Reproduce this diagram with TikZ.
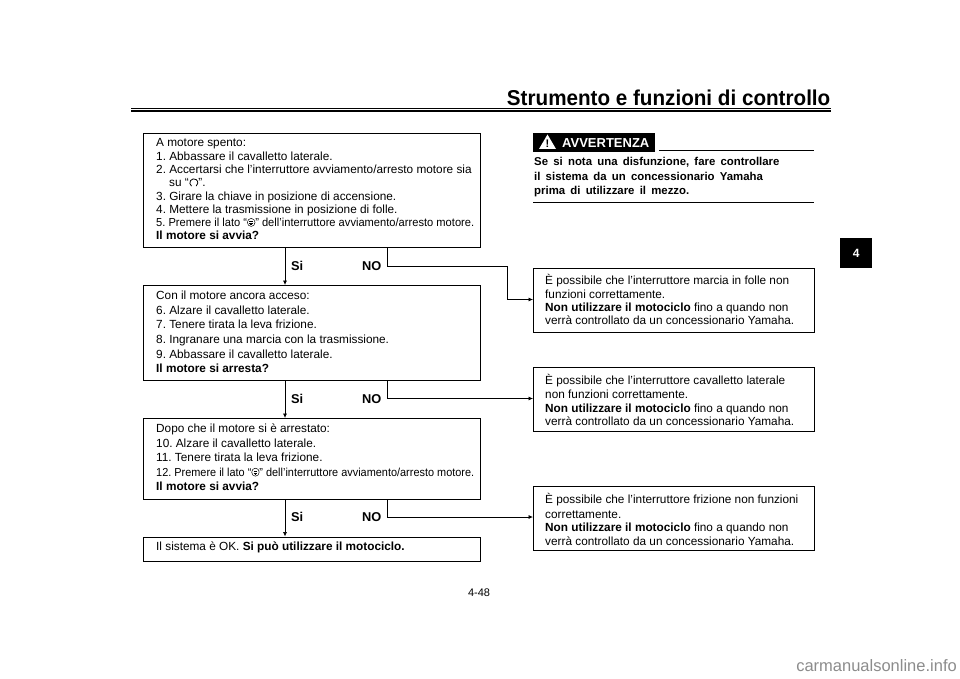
\documentclass[tikz,border=0pt]{standalone}
\usepackage{fontspec}
\setmainfont{Liberation Sans}
\usetikzlibrary{arrows.meta}
\newcommand{\boxfont}[1]{\frenchspacing\fontsize{11.8}{#1}\selectfont}
\newcommand{\narrowline}[1]{\resizebox{318pt}{\height}{\fontsize{11.6}{13}\selectfont #1}}
\newcommand{\startsym}{\tikz[baseline=-0.4pt,x=1pt,y=1pt,line width=0.5pt]{\draw (0,3.8) circle (4); \draw (-2,4.8) -- (2,4.8) (-2,3.2) -- (2,3.2) (-1,1.7) -- (1,1.7);}}
\newcommand{\runsym}{\tikz[baseline=0pt,x=1pt,y=1pt,line width=0.8pt]{\draw (-2.2,0.6) arc[start angle=235,end angle=-55,radius=4];}}
\tikzset{
  flowbox/.style={draw=black,line width=1.2pt,anchor=north west,inner sep=0pt},
  boxtext/.style={anchor=north west,inner sep=0pt,align=left},
  decision/.style={anchor=base west,inner sep=0pt,font=\bfseries\fontsize{12.8}{14}\selectfont},
  conn/.style={draw=black,line width=0.7pt,-{Latex[length=4.5pt,width=4pt]}},
  rulek/.style={draw=black}
}
\begin{document}
\begin{tikzpicture}[x=1pt,y=-1pt]
\useasboundingbox (0,0) rectangle (960,679);
\fill[white] (0,0) rectangle (960,679);
% header
\node[anchor=base east,inner sep=0pt,font=\bfseries\fontsize{21.5}{24}\selectfont] (title) at (830.5,105.5) {\scalebox{0.96}[1]{Strumento e funzioni di controllo}};
\coordinate (h1) at (131,108.7); \coordinate (h1e) at (831,108.7);
\coordinate (h2) at (131,111.3); \coordinate (h2e) at (831,111.3);
\draw[rulek,line width=0.9pt] (h1) -- (h1e);
\draw[rulek,line width=1.6pt] (h2) -- (h2e);
% tab
\node[fill=black,text=white,font=\bfseries\fontsize{12}{13}\selectfont,minimum width=32pt,minimum height=30pt,inner sep=0pt,anchor=north west] (tab) at (840,238) {4};
% boxes
\node[flowbox,minimum width=337pt,minimum height=114pt] (b1) at (142.5,133) {};
\node[flowbox,minimum width=337pt,minimum height=95pt] (b2) at (142.5,285) {};
\node[flowbox,minimum width=337pt,minimum height=81pt] (b3) at (142.5,418) {};
\node[flowbox,minimum width=337pt,minimum height=24pt] (b4) at (142.5,536.5) {};
\node[flowbox,minimum width=281pt,minimum height=64pt] (r1) at (533,267.5) {};
\node[flowbox,minimum width=281pt,minimum height=64pt] (r2) at (533,367) {};
\node[flowbox,minimum width=281pt,minimum height=64pt] (r3) at (533,486) {};
% box texts
\node[boxtext,font=\boxfont{13.3}] (t1) at (156,138.5) {A motore spento:\\1. Abbassare il cavalletto laterale.\\2. Accertarsi che l’interruttore avviamento/arresto motore sia\\\hspace*{13pt}su “\runsym”.\\3. Girare la chiave in posizione di accensione.\\4. Mettere la trasmissione in posizione di folle.\\\narrowline{5. Premere il lato “\startsym” dell’interruttore avviamento/arresto motore.}\\\textbf{Il motore si avvia?}};
\node[boxtext,font=\boxfont{14.6}] (t2) at (156,291) {Con il motore ancora acceso:\\6. Alzare il cavalletto laterale.\\7. Tenere tirata la leva frizione.\\8. Ingranare una marcia con la trasmissione.\\9. Abbassare il cavalletto laterale.\\\textbf{Il motore si arresta?}};
\node[boxtext,font=\boxfont{14.5}] (t3) at (156,424) {Dopo che il motore si è arrestato:\\10. Alzare il cavalletto laterale.\\11. Tenere tirata la leva frizione.\\\narrowline{12. Premere il lato “\startsym” dell’interruttore avviamento/arresto motore.}\\\textbf{Il motore si avvia?}};
\node[boxtext,font=\boxfont{13.3}] (t4) at (156,542) {Il sistema è OK. \textbf{Si può utilizzare il motociclo.}};
\node[boxtext,font=\boxfont{13.2}] (tr1) at (545,274.5) {È possibile che l’interruttore marcia in folle non\\funzioni correttamente.\\\textbf{Non utilizzare il motociclo} fino a quando non\\verrà controllato da un concessionario Yamaha.};
\node[boxtext,font=\boxfont{13.6}] (tr2) at (545,374.5) {È possibile che l’interruttore cavalletto laterale\\non funzioni correttamente.\\\textbf{Non utilizzare il motociclo} fino a quando non\\verrà controllato da un concessionario Yamaha.};
\node[boxtext,font=\boxfont{13.3}] (tr3) at (545,493.5) {È possibile che l’interruttore frizione non funzioni\\[1.4pt]correttamente.\\\textbf{Non utilizzare il motociclo} fino a quando non\\verrà controllato da un concessionario Yamaha.};
% connectors
\draw[conn] (b1.south west -| 285,0) -- (b2.north west -| 285,0);
\draw[conn] (b2.south west -| 285,0) -- (b3.north west -| 285,0);
\draw[conn] (b3.south west -| 285,0) -- (b4.north west -| 285,0);
\draw[conn] (b1.south west -| 387,0) |- (507,266) |- (r1.west |- 0,299.5);
\draw[conn] (b2.south west -| 387,0) |- (r2.west |- 0,398.5);
\draw[conn] (b3.south west -| 387,0) |- (r3.west |- 0,517);
% labels
\node[decision] (s1) at (291,270) {Si};
\node[decision] (n1) at (362,270) {NO};
\node[decision] (s2) at (291,403) {Si};
\node[decision] (n2) at (362,403) {NO};
\node[decision] (s3) at (291,521.5) {Si};
\node[decision] (n3) at (362,521.5) {NO};
% warning
\node[fill=black,anchor=north west,minimum width=122pt,minimum height=19pt,inner sep=0pt] (wbar) at (533,133) {};
\node[anchor=base west,inner sep=0pt,text=white,font=\bfseries\fontsize{13}{14}\selectfont] (wtxt) at (562,147.5) {AVVERTENZA};
\fill[white] (539,149) -- (547.5,134.5) -- (556,149) -- cycle;
\node[anchor=center,inner sep=0pt,font=\bfseries\fontsize{11}{11}\selectfont] (wmark) at (547.5,143.5) {!};
\coordinate (w1) at (659,150.7); \coordinate (w1e) at (814,150.7);
\coordinate (w2) at (533,202.5); \coordinate (w2e) at (814,202.5);
\draw[rulek,line width=1pt] (w1) -- (w1e);
\draw[rulek,line width=1pt] (w2) -- (w2e);
\node[anchor=north west,inner sep=0pt,align=left,font={\bfseries\fontsize{11.4}{14.6}\selectfont\spaceskip=5.2pt}] (wbody) at (534,157) {Se si nota una disfunzione, fare controllare\\il sistema da un concessionario Yamaha\\prima di utilizzare il mezzo.};
% page
\node[anchor=base,inner sep=0pt,font=\fontsize{11}{12}\selectfont] (page) at (479,596) {4-48};
\node[anchor=base east,inner sep=0pt,text=black!45,font=\fontsize{16.5}{18}\selectfont] (wm) at (957,671) {carmanualsonline.info};
\end{tikzpicture}
\end{document}
